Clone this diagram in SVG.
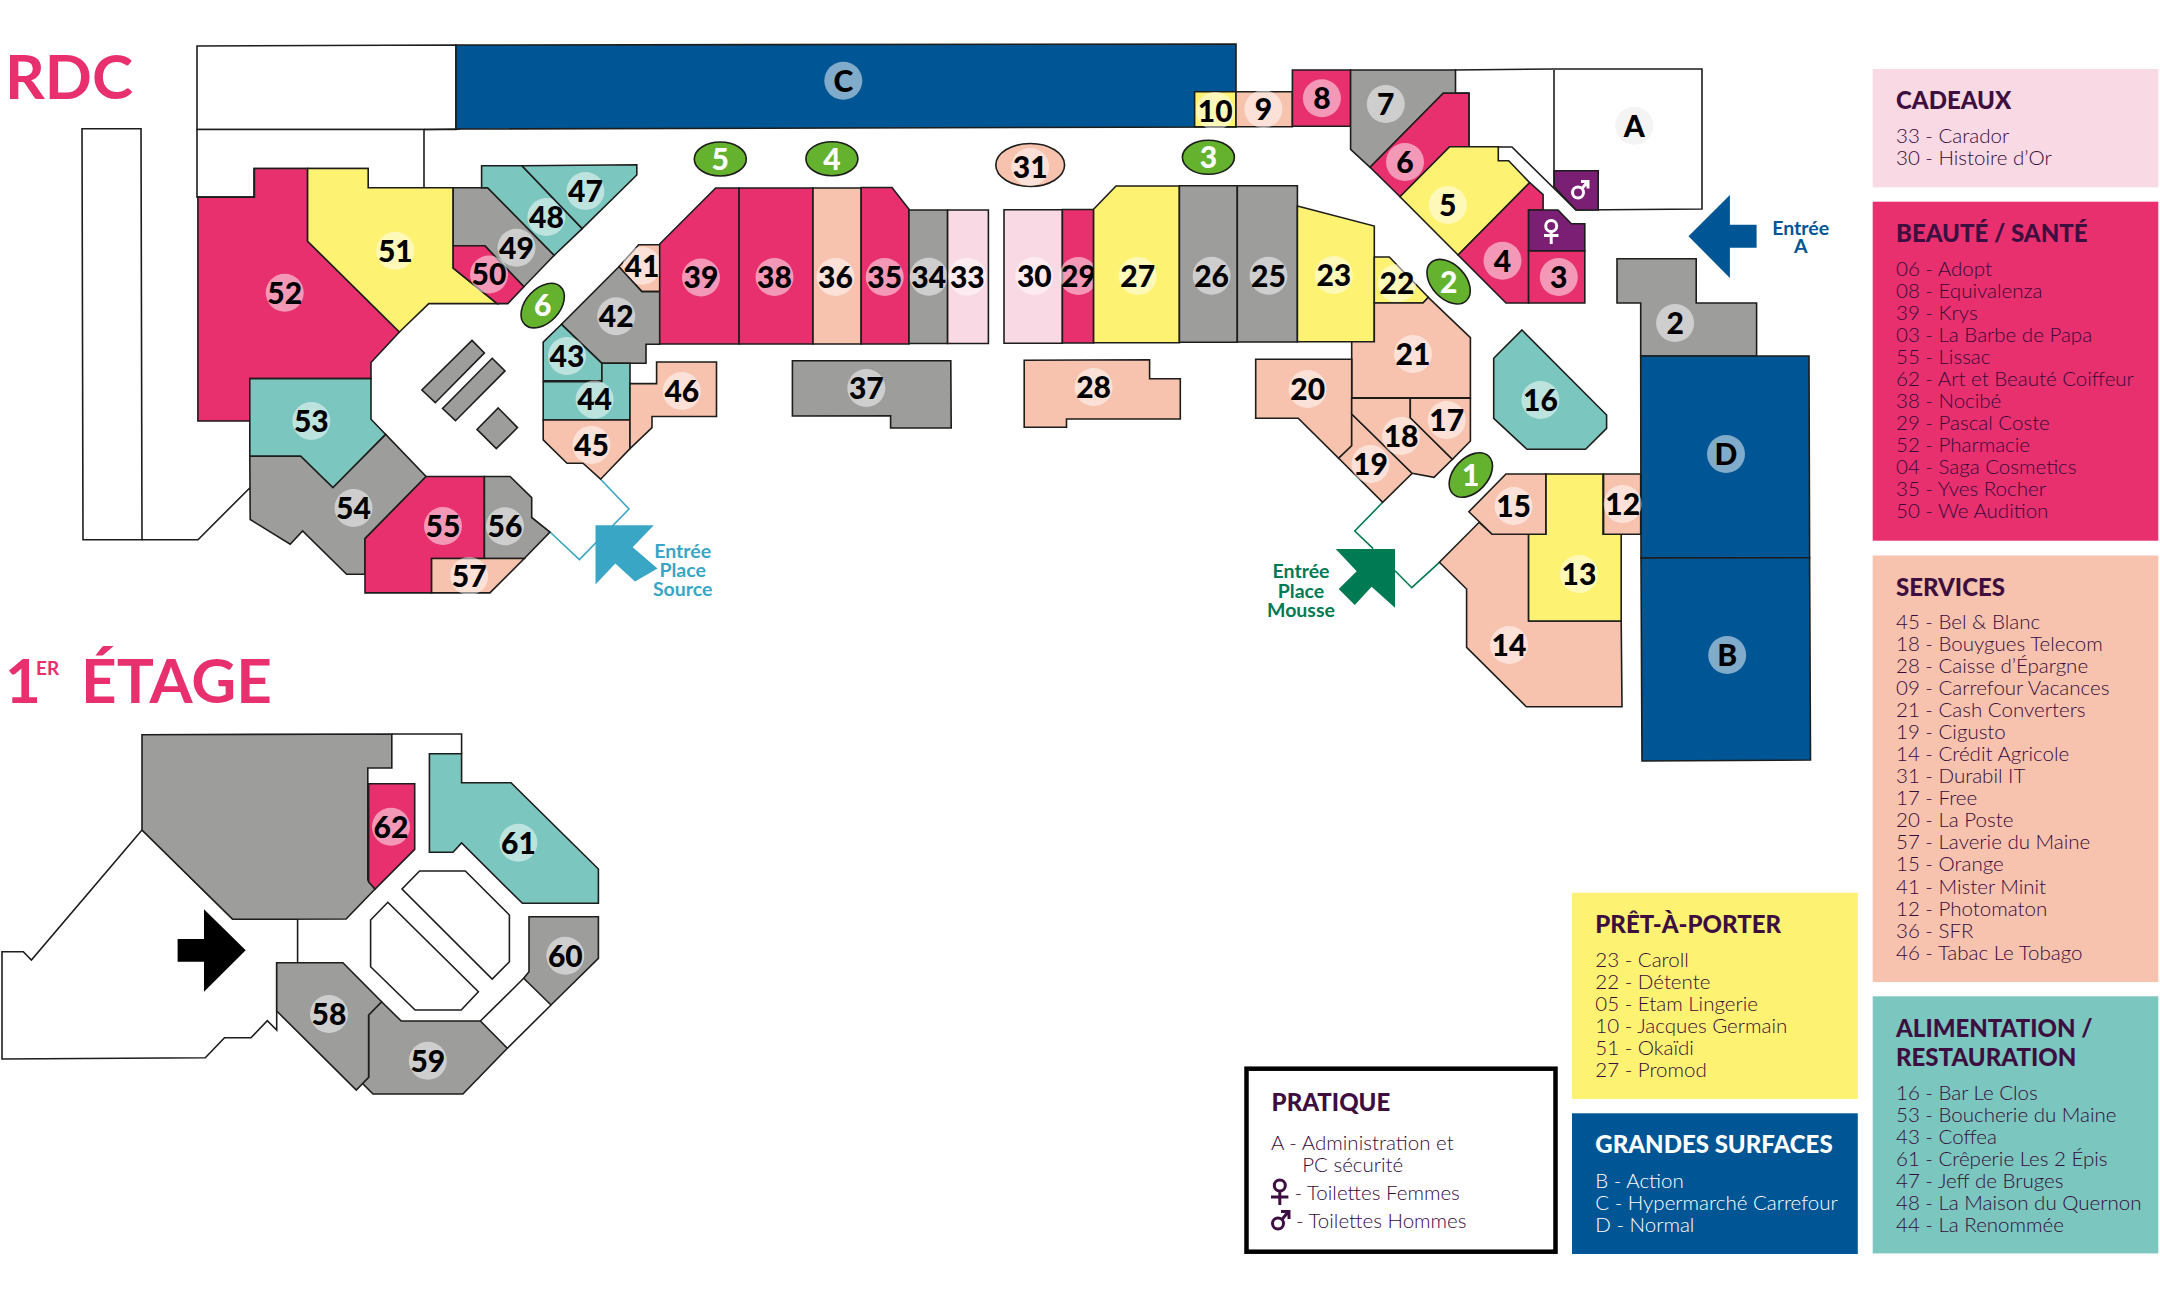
<svg xmlns="http://www.w3.org/2000/svg" width="2160" height="1298" viewBox="0 0 2160 1298">
<style>
text{font-family:"Lato","Liberation Sans",sans-serif}
.s{stroke:#1d1d1b;stroke-width:1.6;stroke-linejoin:miter}
.o{fill:none;stroke:#1d1d1b;stroke-width:1.6}
.w{fill:#fff}.pk{fill:#e8306e}.ye{fill:#fef272}.gy{fill:#9d9d9c}.te{fill:#7bc6bf}.pe{fill:#f7c3ae}.lp{fill:#f9d9e3}.bl{fill:#005695}.pu{fill:#7a1f74}.gr{fill:#64b22e}
.b{fill:#fff;fill-opacity:.5}
.n{font-size:30px;font-weight:900;text-anchor:middle;fill:#000}
.g{font-size:30px;font-weight:900;text-anchor:middle;fill:#fff}
.h{font-size:24px;font-weight:900;fill:#3d0f40}
.i{font-size:20.5px;font-weight:300;fill:#360a3a}
.hw{fill:#fff}.iw{fill:#fff}
.t{font-size:62px;font-weight:700;fill:#e8306e}
.e{font-size:19.5px;font-weight:700;text-anchor:middle}
.ic{fill:none;stroke-width:3}
</style>

<g id="structure">
<polygon class="s w" points="197,46 456,45 456,129.5 197,129.5"/>
<polygon class="s w" points="197,129.5 424,129.5 424,187.7 368,187.7 368,168.5 254,168.5 254,197.1 197,197.1"/>
<line class="o" x1="424" y1="129.5" x2="460" y2="129"/>
<polygon class="s w" points="82,128.7 141,128.7 142,539.7 83,539.7"/>
<polyline class="o" points="142,539.7 198,539.7 250,487.7"/>
<polygon class="s w" points="1554,69 1702,69 1702,209 1576,210 1512,147 1498,147 1469,147 1469,93 1455,93 1455,70"/>
<line class="o" x1="1554" y1="70" x2="1554" y2="187"/>
<polyline fill="none" stroke="#3aa6c5" stroke-width="1.6" points="600.6,479.2 629,509 579.4,559.6 550,532"/>
<polyline fill="none" stroke="#007a53" stroke-width="1.6" points="1382.7,502.3 1354.8,531 1373.2,548.7"/>
<polyline fill="none" stroke="#007a53" stroke-width="1.6" points="1395,570.7 1411.8,587.7 1439.4,562.3"/>
<polygon class="s gy" points="472,340.4 484.4,352.9 435.3,402.7 421.9,390"/>
<polygon class="s gy" points="492.2,358.3 505,370.9 455.5,420.7 442.6,408.5"/>
<polygon class="s gy" points="498.2,408 517.5,427.6 496.3,448.6 477,429.4"/>
</g>

<g id="labels-titles">
<text class="t" x="5" y="98.5">RDC</text>
<text class="t" y="703"><tspan x="5">1</tspan><tspan x="36" y="675" style="font-size:19px">ER</tspan><tspan x="81" y="703">ÉTAGE</tspan></text>
</g>

<g id="node-C"><polygon class="s bl" points="456,45 1236,44 1236,127 456,129"/><circle class="b" cx="843.3" cy="80.7" r="19"/><text class="n" x="843.3" y="91.5">C</text></g>
<g id="node-52"><polygon class="s pk" points="254.4,168.5 307.6,168.5 307.6,241.2 399.4,332 371,362.5 371,378.6 249.8,378.6 249.8,421 197.9,421 197.9,197.1 254.4,197.1"/><circle class="b" cx="284.7" cy="292.8" r="19"/><text class="n" x="284.7" y="303.6">52</text></g>
<g id="node-51"><polygon class="s ye" points="307.6,168.5 368.2,168.5 368.2,187.7 453.2,187.7 453.2,268 497.2,303.6 428.8,303.6 399.4,332 307.6,241.2"/><circle class="b" cx="395.3" cy="250.7" r="19"/><text class="n" x="395.3" y="261.5">51</text></g>
<g id="node-49"><polygon class="s gy" points="453.2,187.7 487.6,187.7 554.2,255.3 523.9,286.7 484.8,245.8 453.2,245.8"/><circle class="b" cx="516.5" cy="247.7" r="19"/><text class="n" x="516.5" y="258.5">49</text></g>
<g id="node-50"><polygon class="s pk" points="453.2,245.8 484.8,245.8 523.9,286.7 507.8,303.6 497.2,303.6 453.2,268"/><circle class="b" cx="489" cy="274.5" r="19"/><text class="n" x="489" y="285.3">50</text></g>
<g id="node-48"><polygon class="s te" points="481.6,165.8 522,165.8 582.2,228.6 554.2,255.3 487.6,187.7 481.6,187.7"/><circle class="b" cx="546.4" cy="217" r="19"/><text class="n" x="546.4" y="227.8">48</text></g>
<g id="node-47"><polygon class="s te" points="522,165.8 636.8,164.7 636.8,175 582.2,228.6"/><circle class="b" cx="585.4" cy="191" r="19"/><text class="n" x="585.4" y="201.8">47</text></g>
<g id="node-41"><polygon class="s pe" points="618.9,266.8 638.7,244.7 659.8,244.7 659.8,291.6 641.9,291.6"/><circle class="b" cx="641.9" cy="265.8" r="19"/><text class="n" x="641.9" y="276.6">41</text></g>
<g id="node-42"><polygon class="s gy" points="618.9,266.8 561.5,324.3 601.9,363.3 646,363.3 646,344.2 659.8,344.2 659.8,291.6 641.9,291.6"/><circle class="b" cx="616.2" cy="316.2" r="19"/><text class="n" x="616.2" y="327">42</text></g>
<g id="node-43"><polygon class="s te" points="561.5,324.3 601.9,363.3 601.9,380.9 543.2,380.9 543.2,342.2"/><circle class="b" cx="567" cy="356" r="19"/><text class="n" x="567" y="366.8">43</text></g>
<g id="node-44"><polygon class="s te" points="543.2,381.7 601.9,381.7 601.9,363.3 630,363.3 630,420 543.2,420"/><circle class="b" cx="594.6" cy="399.6" r="19"/><text class="n" x="594.6" y="410.4">44</text></g>
<g id="node-45"><polygon class="s pe" points="543.2,420 630,420 630,448.6 600.6,479.2 583,463.2 567,463.2 543.2,439.8"/><circle class="b" cx="591.4" cy="444.9" r="19"/><text class="n" x="591.4" y="455.7">45</text></g>
<g id="node-46"><polygon class="s pe" points="630,383.6 656.6,383.6 656.6,362 716.5,362 716.5,416.5 652,416.5 652,427.6 630,448.6"/><circle class="b" cx="681.8" cy="391" r="19"/><text class="n" x="681.8" y="401.8">46</text></g>
<g id="node-53"><polygon class="s te" points="249.8,378.6 371,378.6 371,419.2 385.7,434.4 332.9,487.7 300.7,456.3 249.8,456.3"/><circle class="b" cx="311.3" cy="421" r="19"/><text class="n" x="311.3" y="431.8">53</text></g>
<g id="node-54"><polygon class="s gy" points="249.8,456.3 300.7,456.3 332.9,487.7 385.7,434.4 426.1,476.5 365,538.6 365,574.2 346.6,574.2 302.6,530.9 290.2,544.3 250.2,519.5"/><circle class="b" cx="353.5" cy="508" r="19"/><text class="n" x="353.5" y="518.8">54</text></g>
<g id="node-55"><polygon class="s pk" points="426.1,476.5 484.4,476.5 484.4,558.5 431.6,558.5 431.6,592.9 365,592.9 365,538.6"/><circle class="b" cx="443" cy="526" r="19"/><text class="n" x="443" y="536.8">55</text></g>
<g id="node-56"><polygon class="s gy" points="484.4,476.5 510.1,476.5 531.7,497.6 531.7,517.5 550,532 524.3,558.5 484.4,558.5"/><circle class="b" cx="505" cy="526.3" r="19"/><text class="n" x="505" y="537.1">56</text></g>
<g id="node-57"><polygon class="s pe" points="431.6,558.5 524.3,558.5 489.9,592.9 431.6,592.9"/><circle class="b" cx="469.2" cy="576" r="19"/><text class="n" x="469.2" y="586.8">57</text></g>
<g id="node-39"><polygon class="s pk" points="659.7,244 715.7,188 739.1,188 739.1,344 659.7,344"/><circle class="b" cx="701" cy="277.5" r="19"/><text class="n" x="701" y="288.3">39</text></g>
<g id="node-38"><polygon class="s pk" points="739.1,188 813,188 813,344 739.1,344"/><circle class="b" cx="774.5" cy="277" r="19"/><text class="n" x="774.5" y="287.8">38</text></g>
<g id="node-36"><polygon class="s pe" points="813,188 861.2,188 861.2,344 813,344"/><circle class="b" cx="835.5" cy="277" r="19"/><text class="n" x="835.5" y="287.8">36</text></g>
<g id="node-35"><polygon class="s pk" points="861.2,187.5 892,187.5 909,209.3 909,344 861.2,344"/><circle class="b" cx="884.7" cy="277" r="19"/><text class="n" x="884.7" y="287.8">35</text></g>
<g id="node-34"><polygon class="s gy" points="909,210 947.6,210 947.6,343.5 909,343.5"/><circle class="b" cx="928.7" cy="276.7" r="19"/><text class="n" x="928.7" y="287.5">34</text></g>
<g id="node-33"><polygon class="s lp" points="947.6,210 988.4,210 988.4,343.5 947.6,343.5"/><circle class="b" cx="967.3" cy="276.7" r="19"/><text class="n" x="967.3" y="287.5">33</text></g>
<g id="node-30"><polygon class="s lp" points="1004,209.7 1062.4,209.7 1062.4,343.3 1004,343.3"/><circle class="b" cx="1034.3" cy="276" r="19"/><text class="n" x="1034.3" y="286.8">30</text></g>
<g id="node-29"><polygon class="s pk" points="1062.4,209.5 1093.6,209.5 1093.6,343 1062.4,343"/><circle class="b" cx="1078.4" cy="276" r="19"/><text class="n" x="1078.4" y="286.8">29</text></g>
<g id="node-27"><polygon class="s ye" points="1093.6,209.3 1116,186 1179.4,186 1179.4,342.7 1093.6,342.7"/><circle class="b" cx="1137.7" cy="276" r="19"/><text class="n" x="1137.7" y="286.8">27</text></g>
<g id="node-26"><polygon class="s gy" points="1179.4,185.7 1237.3,185.7 1237.3,342.3 1179.4,342.3"/><circle class="b" cx="1211.6" cy="275.7" r="19"/><text class="n" x="1211.6" y="286.5">26</text></g>
<g id="node-25"><polygon class="s gy" points="1237.3,185.7 1297.4,185.7 1297.4,342 1237.3,342"/><circle class="b" cx="1268.5" cy="275.7" r="19"/><text class="n" x="1268.5" y="286.5">25</text></g>
<g id="node-23"><polygon class="s ye" points="1297.4,206 1374.3,226 1374.3,341.7 1297.4,341.7"/><circle class="b" cx="1333.8" cy="275" r="19"/><text class="n" x="1333.8" y="285.8">23</text></g>
<g id="node-22"><polygon class="s ye" points="1374.3,257 1389.3,257 1428.3,297.3 1423,303 1374.3,303"/><circle class="b" cx="1396.9" cy="283.3" r="19"/><text class="n" x="1396.9" y="294.1">22</text></g>
<g id="node-21"><polygon class="s pe" points="1351.7,341.7 1374.3,341.7 1374.3,303 1423,303 1428.3,297.3 1470.4,337.7 1470.4,397.7 1351.7,397.7"/><circle class="b" cx="1413" cy="354" r="19"/><text class="n" x="1413" y="364.8">21</text></g>
<g id="node-20"><polygon class="s pe" points="1255.7,359.3 1351.7,359.3 1351.7,445.7 1338.7,458.3 1298.2,418.3 1255.7,418.3"/><circle class="b" cx="1307.7" cy="389" r="19"/><text class="n" x="1307.7" y="399.8">20</text></g>
<g id="node-19"><polygon class="s pe" points="1351.7,414 1412.2,473.3 1382.7,502.3 1338.7,458.3 1351.7,445.7"/><circle class="b" cx="1370.5" cy="464" r="19"/><text class="n" x="1370.5" y="474.8">19</text></g>
<g id="node-18"><polygon class="s pe" points="1351.7,398.3 1410.3,398.3 1410.3,417.7 1452.4,459.3 1434,477.3 1412.2,473.3 1351.7,414"/><circle class="b" cx="1401.1" cy="436" r="19"/><text class="n" x="1401.1" y="446.8">18</text></g>
<g id="node-17"><polygon class="s pe" points="1410.3,398.3 1470.4,398.3 1470.4,441 1452.4,459.3 1410.3,417.7"/><circle class="b" cx="1446.7" cy="420" r="19"/><text class="n" x="1446.7" y="430.8">17</text></g>
<g id="node-16"><polygon class="s te" points="1522,330 1606.6,415 1606.6,428.3 1585.6,449.3 1527,449.3 1493.7,418.3 1493.7,358.3"/><circle class="b" cx="1540.4" cy="400" r="19"/><text class="n" x="1540.4" y="410.8">16</text></g>
<g id="node-2"><polygon class="s gy" points="1617,258.7 1696.2,258.7 1696.2,303 1756.6,303 1756.6,356 1640.7,356 1640.7,303 1617,303"/><circle class="b" cx="1675.1" cy="323" r="19"/><text class="n" x="1675.1" y="333.8">2</text></g>
<g id="node-D"><polygon class="s bl" points="1640.7,356 1809,356 1809.6,557.7 1641,558"/><circle class="b" cx="1726" cy="454" r="19"/><text class="n" x="1726" y="464.8">D</text></g>
<g id="node-B"><polygon class="s bl" points="1641,558 1809.6,557.7 1810.5,760 1642,761"/><circle class="b" cx="1727.2" cy="655" r="19"/><text class="n" x="1727.2" y="665.8">B</text></g>
<g id="node-14"><polygon class="s pe" points="1479.2,522.3 1492.2,534.3 1528.6,534.3 1528.6,621 1621.2,621 1622,706.7 1526.3,706.7 1466.6,647.3 1466.6,589 1439.4,562.3"/><circle class="b" cx="1509" cy="645" r="19"/><text class="n" x="1509" y="655.8">14</text></g>
<g id="node-13"><polygon class="s ye" points="1545.8,474 1603,474 1603,534.3 1621.2,534.3 1621.2,621 1528.6,621 1528.6,534.3 1545.8,534.3"/><circle class="b" cx="1579" cy="574" r="19"/><text class="n" x="1579" y="584.8">13</text></g>
<g id="node-15"><polygon class="s pe" points="1506,474 1545.8,474 1545.8,534.3 1492.2,534.3 1468.9,511.7"/><circle class="b" cx="1513.6" cy="506" r="19"/><text class="n" x="1513.6" y="516.8">15</text></g>
<g id="node-12"><polygon class="s pe" points="1603.6,474 1640.7,474 1640.7,534.3 1603.6,534.3"/><circle class="b" cx="1622.7" cy="504" r="19"/><text class="n" x="1622.7" y="514.8">12</text></g>
<g id="node-10"><polygon class="s ye" points="1194.6,91.7 1236,91.7 1236,126.7 1194.6,126.7"/><circle class="b" cx="1215.2" cy="111" r="19"/><text class="n" x="1215.2" y="121.8">10</text></g>
<g id="node-9"><polygon class="s pe" points="1236,91.7 1292.4,91.7 1292.4,126.7 1236,126.7"/><circle class="b" cx="1263.4" cy="109" r="19"/><text class="n" x="1263.4" y="119.8">9</text></g>
<g id="node-8"><polygon class="s pk" points="1292.4,70 1350.6,70 1350.6,126.3 1292.4,126.3"/><circle class="b" cx="1321.9" cy="98.3" r="19"/><text class="n" x="1321.9" y="109.1">8</text></g>
<g id="node-7"><polygon class="s gy" points="1350.6,70 1455.5,70 1455.5,93.3 1443.2,93.3 1370.1,167.3 1350.6,149.3"/><circle class="b" cx="1385.8" cy="104" r="19"/><text class="n" x="1385.8" y="114.8">7</text></g>
<g id="node-6"><polygon class="s pk" points="1443.2,93.3 1468.9,93.3 1468.9,146.7 1449.7,146.7 1400,196.7 1370.1,167.3"/><circle class="b" cx="1405" cy="162" r="19"/><text class="n" x="1405" y="172.8">6</text></g>
<g id="node-5"><polygon class="s ye" points="1449.7,146.7 1498.3,146.7 1498.3,160.7 1508.7,160.7 1529.7,182.7 1458.1,255 1400,196.7"/><circle class="b" cx="1447.8" cy="205" r="19"/><text class="n" x="1447.8" y="215.8">5</text></g>
<g id="node-4"><polygon class="s pk" points="1529.7,182.7 1543.1,194.7 1543.1,210 1528.6,210 1528.6,303 1506,303 1458.1,255"/><circle class="b" cx="1502.5" cy="260.7" r="19"/><text class="n" x="1502.5" y="271.5">4</text></g>
<g id="node-3"><polygon class="s pk" points="1528.6,250.7 1584.8,250.7 1584.8,303 1528.6,303"/><circle class="b" cx="1558.8" cy="277" r="19"/><text class="n" x="1558.8" y="287.8">3</text></g>
<g id="node-A"><circle cx="1634.2" cy="125.7" r="19" fill="#f4f4f4"/><text class="n" x="1634.2" y="136.5">A</text></g>
<g id="node-hommes"><polygon class="s pu" points="1554.2,170.7 1598.2,170.7 1598.2,210 1576,210 1554.2,186.7"/><g class="ic" stroke="#fff"><circle cx="1578" cy="192.5" r="5.5"/><path d="M1582 188.5L1587.5 182M1581 181.5H1588V188.5"/></g></g>
<g id="node-femmes"><polygon class="s pu" points="1528.6,210 1558,210 1571.4,223.7 1584.8,223.7 1584.8,250.7 1528.6,250.7"/><g class="ic" stroke="#fff"><circle cx="1551.2" cy="226" r="5.5"/><path d="M1551.2 231.5V244M1544 235.5H1558.5"/></g></g>
<g id="node-37"><polygon class="s gy" points="792.4,360.7 950.8,360.7 951.2,428 890.6,428 890.6,415.7 792.4,416"/><circle class="b" cx="866.3" cy="388" r="19"/><text class="n" x="866.3" y="398.8">37</text></g>
<g id="node-28"><polygon class="s pe" points="1024.2,360.3 1149.6,359.7 1149.6,378.7 1180.3,378.7 1180.3,419 1066.5,419 1066.5,427.3 1024.2,427.3"/><circle class="b" cx="1093.6" cy="387" r="19"/><text class="n" x="1093.6" y="397.8">28</text></g>

<g id="bubble-5"><ellipse class="s gr" cx="720.3" cy="159" rx="26" ry="17"/><text class="g" x="720.3" y="169.8">5</text></g>
<g id="bubble-4"><ellipse class="s gr" cx="831.9" cy="158.7" rx="26" ry="17"/><text class="g" x="831.9" y="169.5">4</text></g>
<g id="bubble-3"><ellipse class="s gr" cx="1208.4" cy="157.3" rx="26" ry="17"/><text class="g" x="1208.4" y="168.1">3</text></g>
<g id="bubble-6"><ellipse class="s gr" cx="542.7" cy="305.6" rx="26" ry="17" transform="rotate(-47 542.7 305.6)"/><text class="g" x="542.7" y="316.4">6</text></g>
<g id="bubble-2"><ellipse class="s gr" cx="1448.6" cy="281.7" rx="26" ry="17" transform="rotate(47 1448.6 281.7)"/><text class="g" x="1448.6" y="292.5">2</text></g>
<g id="bubble-1"><ellipse class="s gr" cx="1470.8" cy="475" rx="26" ry="17" transform="rotate(-47 1470.8 475)"/><text class="g" x="1470.8" y="485.8">1</text></g>
<g id="node-31"><ellipse class="s pe" cx="1030.2" cy="165" rx="34.4" ry="21.5"/><circle class="b" cx="1030.2" cy="167" r="19"/><text class="n" x="1030.2" y="178">31</text></g>

<g id="entree-source"><polygon fill="#3aa6c5" points="595.5,525.2 653.8,525.2 632.7,547.3 657.5,568.4 635,581.4 615.3,563.5 595.5,584.5"/><text class="e" fill="#3aa6c5"><tspan x="682.7" y="557.7">Entrée</tspan><tspan x="682.7" y="576.8">Place</tspan><tspan x="682.7" y="595.9">Source</tspan></text></g>
<g id="entree-mousse"><polygon fill="#007a53" points="1335.7,549 1395,549 1395,607.7 1371.6,586.7 1354.8,605 1338.7,589 1356.7,571.3"/><text class="e" fill="#007a53"><tspan x="1301" y="578">Entrée</tspan><tspan x="1301" y="597.7">Place</tspan><tspan x="1301" y="616.7">Mousse</tspan></text></g>
<g id="entree-a"><polygon fill="#005695" points="1688.5,236.3 1729.9,195 1729.9,224.7 1756.6,224.7 1756.6,247.7 1729.9,247.7 1729.9,278"/><text class="e" fill="#005695"><tspan x="1800.7" y="235">Entrée</tspan><tspan x="1800.7" y="253.3">A</tspan></text></g>

<g id="etage">
<polygon class="s w" points="142,830 31.4,960 23.3,951.7 2,951.7 2,1059 205.3,1057.7 224.5,1037.7 251,1037.7 267.3,1020.7 276.7,1030 276.7,962.7 297.6,962.7 297.6,919.3 232.7,919.3"/>
<polyline class="o" points="391.8,734 461.6,734 461.6,753.7"/>
<polygon class="s gy" points="142,734.7 391.8,734 391.8,768 367.8,768 367.8,880 375.1,889 346.1,919 232.7,919.3 142,830"/>
<polyline class="o" points="480.4,1021 523.7,978.3"/>
<polyline class="o" points="507.3,1048.3 551,1005"/>
<polygon class="s w" points="419.6,871 465.3,871 509.4,915 509.4,961.7 492.2,979 402,889"/>
<polygon class="s w" points="387.8,902.3 478.4,991.7 461.2,1010 415.1,1010 370.6,966.7 370.6,920"/>
<polygon fill="#000" points="204,909.3 245.7,950.3 204,991.7 204,961.7 177.6,961.7 177.6,939 204,939"/>
</g>
<g id="node-62"><polygon class="s pk" points="368.6,783.7 414.7,783.7 414.7,849.3 375.1,889 368.6,882"/><circle class="b" cx="391" cy="826.7" r="19"/><text class="n" x="391" y="837.5">62</text></g>
<g id="node-61"><polygon class="s te" points="429.4,753.7 461.6,753.7 461.6,782.7 511,782.7 598.4,869 598.4,903.3 522.4,903.3 461.6,843 453,852.3 429.4,852.3"/><circle class="b" cx="518.4" cy="842.7" r="19"/><text class="n" x="518.4" y="853.5">61</text></g>
<g id="node-60"><polygon class="s gy" points="529,916.7 598.4,916.7 598.4,958.3 551,1005 523.7,978.3 529,971.7"/><circle class="b" cx="565.3" cy="955.7" r="19"/><text class="n" x="565.3" y="966.5">60</text></g>
<g id="node-59"><polygon class="s gy" points="381.6,1001.7 401.2,1021 480.4,1021 507.3,1048.3 462.9,1094 373,1094 362.4,1083.3 368.6,1077.3 368.6,1015"/><circle class="b" cx="427.8" cy="1060.7" r="19"/><text class="n" x="427.8" y="1071.5">59</text></g>
<g id="node-58"><polygon class="s gy" points="276.7,962.7 342.9,962.7 381.6,1001.7 368.6,1015 368.6,1077.3 356.3,1090 276.7,1011"/><circle class="b" cx="329" cy="1014" r="19"/><text class="n" x="329" y="1024.8">58</text></g>

<g id="legend-cadeaux"><rect class="lp" x="1872.7" y="69" width="285.6" height="118.3"/><text class="h" x="1896" y="108.7">CADEAUX</text><g class="i"><text x="1896" y="142.7">33 - Carador</text><text x="1896" y="164.7">30 - Histoire d’Or</text></g></g>
<g id="legend-beaute"><rect class="pk" x="1872.7" y="201.7" width="285.6" height="339"/><text class="h" x="1896" y="242.3">BEAUTÉ / SANTÉ</text><g class="i">
<text x="1896" y="276">06 - Adopt</text><text x="1896" y="298">08 - Equivalenza</text><text x="1896" y="320">39 - Krys</text><text x="1896" y="342">03 - La Barbe de Papa</text><text x="1896" y="364">55 - Lissac</text><text x="1896" y="386">62 - Art et Beauté Coiffeur</text><text x="1896" y="408">38 - Nocibé</text><text x="1896" y="430">29 - Pascal Coste</text><text x="1896" y="452">52 - Pharmacie</text><text x="1896" y="474">04 - Saga Cosmetics</text><text x="1896" y="496">35 - Yves Rocher</text><text x="1896" y="518">50 - We Audition</text></g></g>
<g id="legend-services"><rect class="pe" x="1872.7" y="555.5" width="285.6" height="426.5"/><text class="h" x="1896" y="596">SERVICES</text><g class="i">
<text x="1896" y="629">45 - Bel &amp; Blanc</text><text x="1896" y="651">18 - Bouygues Telecom</text><text x="1896" y="673.1">28 - Caisse d’Épargne</text><text x="1896" y="695.1">09 - Carrefour Vacances</text><text x="1896" y="717.2">21 - Cash Converters</text><text x="1896" y="739.2">19 - Cigusto</text><text x="1896" y="761.2">14 - Crédit Agricole</text><text x="1896" y="783.3">31 - Durabil IT</text><text x="1896" y="805.3">17 - Free</text><text x="1896" y="827.4">20 - La Poste</text><text x="1896" y="849.4">57 - Laverie du Maine</text><text x="1896" y="871.4">15 - Orange</text><text x="1896" y="893.5">41 - Mister Minit</text><text x="1896" y="915.5">12 - Photomaton</text><text x="1896" y="937.6">36 - SFR</text><text x="1896" y="959.6">46 - Tabac Le Tobago</text></g></g>
<g id="legend-alimentation"><rect class="te" x="1872.7" y="996.3" width="285.6" height="257.1"/><text class="h" x="1896" y="1037">ALIMENTATION /</text><text class="h" x="1896" y="1066">RESTAURATION</text><g class="i">
<text x="1896" y="1100">16 - Bar Le Clos</text><text x="1896" y="1122">53 - Boucherie du Maine</text><text x="1896" y="1144">43 - Coffea</text><text x="1896" y="1166">61 - Crêperie Les 2 Épis</text><text x="1896" y="1188">47 - Jeff de Bruges</text><text x="1896" y="1210">48 - La Maison du Quernon</text><text x="1896" y="1232">44 - La Renommée</text></g></g>
<g id="legend-pret"><rect class="ye" x="1572" y="892.7" width="285.8" height="206.3"/><text class="h" x="1595.3" y="932.7">PRÊT-À-PORTER</text><g class="i">
<text x="1595.3" y="967.3">23 - Caroll</text><text x="1595.3" y="989.3">22 - Détente</text><text x="1595.3" y="1011.3">05 - Etam Lingerie</text><text x="1595.3" y="1033.3">10 - Jacques Germain</text><text x="1595.3" y="1055.3">51 - Okaïdi</text><text x="1595.3" y="1077.3">27 - Promod</text></g></g>
<g id="legend-grandes"><rect class="bl" x="1572" y="1113.3" width="285.8" height="140.7"/><text class="h hw" x="1595.3" y="1153.3">GRANDES SURFACES</text><g class="i">
<text class="iw" x="1595.3" y="1188.3">B - Action</text><text class="iw" x="1595.3" y="1210.3">C - Hypermarché Carrefour</text><text class="iw" x="1595.3" y="1232.3">D - Normal</text></g></g>
<g id="legend-pratique"><rect x="1246.5" y="1068.7" width="309" height="183" fill="#fff" stroke="#000" stroke-width="4.5"/><text class="h" x="1271.6" y="1110.7">PRATIQUE</text><g class="i">
<text x="1271" y="1150">A - Administration et</text><text x="1302.2" y="1171.7">PC sécurité</text><text x="1294.5" y="1200">- Toilettes Femmes</text><text x="1296" y="1228.3">- Toilettes Hommes</text></g>
<g class="ic" stroke="#3d0f40"><circle cx="1279.8" cy="1185.5" r="5.5"/><path d="M1279.8 1191V1205M1271 1197H1288.4"/><circle cx="1278" cy="1223.5" r="5.5"/><path d="M1282 1219.5L1288 1212M1281 1211.5H1289V1219"/></g></g>
</svg>
